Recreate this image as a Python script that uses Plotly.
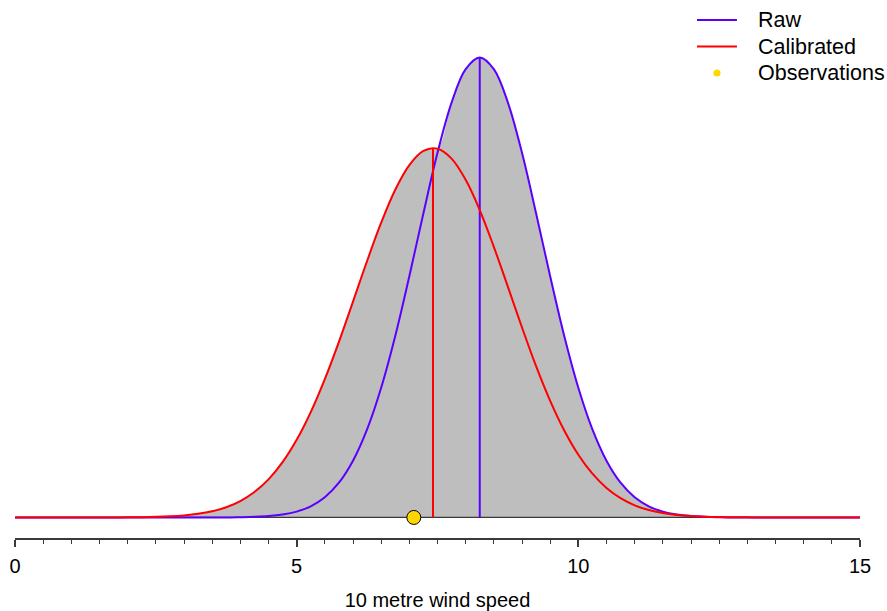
import numpy as np
import plotly.graph_objects as go

# ---- data ----
x_grid = [round(0.25 * i, 2) for i in range(61)]  # 0 .. 15 step 0.25

# Raw ensemble density (purple), values at x_grid
raw_density = [0]*16 + [
    0.000207, 0.000489, 0.001087, 0.0023, 0.00461, 0.0088, 0.01594, 0.0274,
    0.04476, 0.06946, 0.1023, 0.1431, 0.1902, 0.2399, 0.2875, 0.3271,
    0.3535, 0.3627, 0.3535, 0.3271, 0.2875, 0.2399, 0.1902, 0.1431,
    0.1023, 0.06946, 0.04476, 0.0274, 0.01594, 0.0088, 0.00461, 0.0023,
    0.001087, 0.000489, 0.000207] + [0]*10

# Calibrated density (red), values at x_grid
cal_density = [0]*8 + [
    0.000116, 0.000236, 0.000461, 0.000873, 0.0016, 0.002835, 0.004857, 0.008055,
    0.01291, 0.02003, 0.03005, 0.04359, 0.06118, 0.08308, 0.1091, 0.1385,
    0.1702, 0.2022, 0.2324, 0.2584, 0.2778, 0.2890, 0.2907, 0.2829,
    0.2662, 0.2424, 0.2134, 0.1818, 0.1498, 0.1193, 0.09196, 0.06858,
    0.04945, 0.03448, 0.02326, 0.01518, 0.00958, 0.005847, 0.003454, 0.001972,
    0.00109, 0.000583, 0.000301, 0.000151, 0.00007] + [0]*8

raw_mean = 8.25
raw_peak = 0.3627
cal_mean = 7.42
cal_peak = 0.2905
observation = [7.08]

major_ticks = [0, 5, 10, 15]
tick_labels = ["0", "5", "10", "15"]
x_title = "10 metre wind speed"

legend_names = ["Raw", "Calibrated", "Observations"]
legend_kinds = ["line", "line", "dot"]

PURPLE = "#5B00FF"
RED = "#FF0000"
GOLD = "#FFD700"
FILL = "#BEBEBE"
DARK = "#3A3A3A"
FONT = "Liberation Sans, Arial, sans-serif"
legend_colors = [PURPLE, RED, GOLD]

union = np.maximum(np.array(raw_density), np.array(cal_density))

fig = go.Figure()

# gray area under both curves
fig.add_trace(go.Scatter(x=x_grid, y=union, mode="lines", line=dict(width=0, shape="spline"),
                         fill="tozeroy", fillcolor=FILL, showlegend=False, hoverinfo="skip"))
# baseline
fig.add_trace(go.Scatter(x=[x_grid[0], x_grid[-1]], y=[0, 0], mode="lines",
                         line=dict(color=DARK, width=1.3), showlegend=False, hoverinfo="skip"))
# raw curve + mean line
fig.add_trace(go.Scatter(x=x_grid, y=raw_density, mode="lines", name="Raw", showlegend=False,
                         line=dict(color=PURPLE, width=2, shape="spline")))
fig.add_trace(go.Scatter(x=[raw_mean, raw_mean], y=[0, raw_peak], mode="lines",
                         line=dict(color=PURPLE, width=2), showlegend=False))
# calibrated curve + mean line
fig.add_trace(go.Scatter(x=x_grid, y=cal_density, mode="lines", name="Calibrated", showlegend=False,
                         line=dict(color=RED, width=2, shape="spline")))
fig.add_trace(go.Scatter(x=[cal_mean, cal_mean], y=[0, cal_peak], mode="lines",
                         line=dict(color=RED, width=2), showlegend=False))
# observation
fig.add_trace(go.Scatter(x=observation, y=[0]*len(observation), mode="markers", name="Observations",
                         marker=dict(color=GOLD, size=14, line=dict(color="black", width=1)),
                         showlegend=False, cliponaxis=False))

# ---- legend (top right), drawn in paper coordinates ----
leg_x0, leg_x1, leg_tx = 0.8071, 0.8544, 0.8781
leg_y0, leg_dy = 0.9628, 0.0493
dot_r = 0.0042
for i, (name, kind, col) in enumerate(zip(legend_names, legend_kinds, legend_colors)):
    yy = leg_y0 - i * leg_dy
    if kind == "line":
        fig.add_shape(type="line", xref="paper", yref="paper", x0=leg_x0, x1=leg_x1, y0=yy, y1=yy,
                      line=dict(color=col, width=2))
    else:
        xc = (leg_x0 + leg_x1) / 2
        fig.add_shape(type="circle", xref="paper", yref="paper",
                      x0=xc - dot_r, x1=xc + dot_r, y0=yy - dot_r * 845 / 538, y1=yy + dot_r * 845 / 538,
                      line=dict(width=0), fillcolor=col)
    fig.add_annotation(xref="paper", yref="paper", x=leg_tx, y=yy, text=name, showarrow=False,
                       xanchor="left", yanchor="middle", borderpad=0,
                       font=dict(family=FONT, size=21.5, color="black"))

fig.update_layout(
    width=887, height=611,
    margin=dict(l=15, r=27, t=0, b=73),
    paper_bgcolor="white", plot_bgcolor="white",
    font=dict(family=FONT, size=20, color="black"),
    showlegend=False,
    xaxis=dict(range=[0, 15], showgrid=False, zeroline=False,
               showline=True, linecolor=DARK, linewidth=1.5,
               ticks="outside", ticklen=7, tickwidth=1.5, tickcolor=DARK,
               tickvals=major_ticks, ticktext=tick_labels, ticklabelstandoff=2,
               tickfont=dict(family=FONT, size=20, color="black"),
               minor=dict(dtick=0.5, tick0=0, ticks="outside", ticklen=4, tickwidth=1.2, tickcolor=DARK),
               title=dict(text=x_title, font=dict(family=FONT, size=20, color="black"), standoff=17)),
    yaxis=dict(range=[-0.0162, 0.408], visible=False, showgrid=False, zeroline=False),
)

fig.write_html("out.html")
